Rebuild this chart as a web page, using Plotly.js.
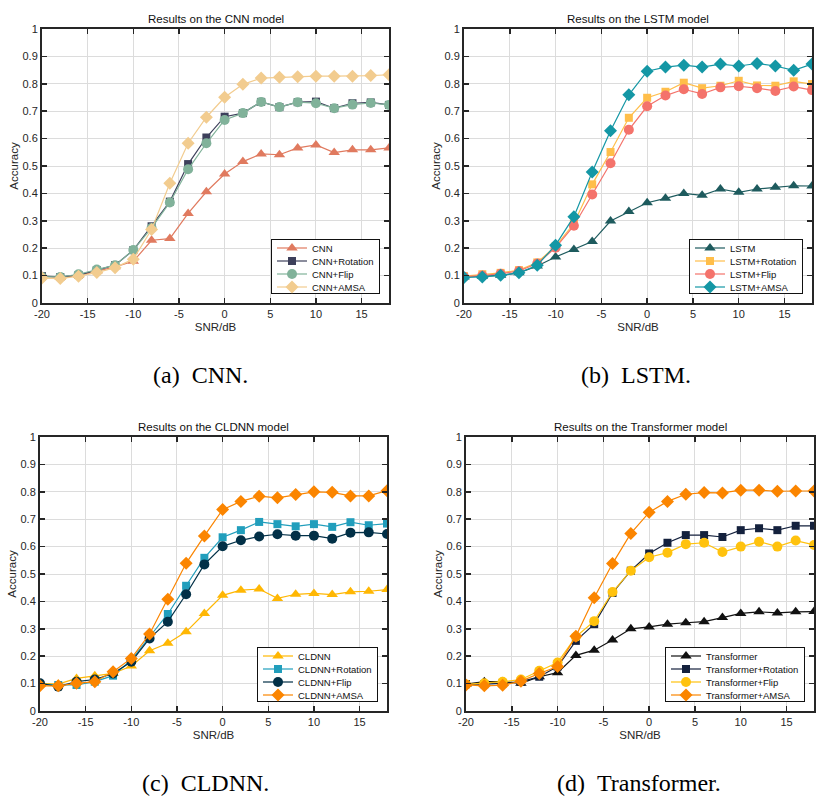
<!DOCTYPE html>
<html>
<head>
<meta charset="utf-8">
<script src="https://cdn.plot.ly/plotly-3.0.1.min.js"></script>
<style>html,body{margin:0;padding:0;background:#fff}#chart{width:831px;height:809px}</style>
</head>
<body>
<div id="chart"></div>
<script>
// SNR values (dB)
const snr = [-20,-18,-16,-14,-12,-10,-8,-6,-4,-2,0,2,4,6,8,10,12,14,16,18];
const xTickVals = [-20,-15,-10,-5,0,5,10,15];
const xTickText = ["-20","-15","-10","-5","0","5","10","15"];

// (a) CNN
const cnn          = [0.098,0.093,0.100,0.115,0.132,0.152,0.229,0.235,0.327,0.406,0.471,0.516,0.544,0.541,0.566,0.577,0.549,0.559,0.559,0.566];
const cnnRotation  = [0.098,0.095,0.102,0.120,0.138,0.193,0.280,0.370,0.507,0.604,0.680,0.693,0.734,0.715,0.733,0.735,0.711,0.729,0.732,0.723];
const cnnFlip      = [0.095,0.095,0.105,0.122,0.138,0.193,0.274,0.367,0.488,0.583,0.668,0.693,0.734,0.715,0.733,0.729,0.711,0.724,0.730,0.723];
const cnnAMSA      = [0.091,0.089,0.098,0.111,0.129,0.160,0.268,0.437,0.583,0.678,0.751,0.798,0.821,0.824,0.826,0.828,0.828,0.828,0.830,0.833];

// (b) LSTM
const lstm         = [0.095,0.098,0.101,0.110,0.135,0.168,0.195,0.224,0.299,0.334,0.366,0.382,0.400,0.393,0.416,0.404,0.416,0.422,0.428,0.427];
const lstmRotation = [0.098,0.105,0.110,0.120,0.148,0.207,0.290,0.433,0.551,0.676,0.749,0.771,0.804,0.784,0.793,0.811,0.794,0.793,0.809,0.799];
const lstmFlip     = [0.096,0.100,0.107,0.117,0.144,0.202,0.282,0.396,0.510,0.632,0.718,0.757,0.780,0.763,0.787,0.791,0.784,0.774,0.790,0.777];
const lstmAMSA     = [0.093,0.095,0.101,0.110,0.138,0.211,0.315,0.478,0.629,0.760,0.846,0.861,0.868,0.861,0.872,0.865,0.874,0.865,0.849,0.872];

// (c) CLDNN
const cldnn         = [0.101,0.098,0.119,0.129,0.137,0.164,0.220,0.247,0.289,0.356,0.422,0.441,0.445,0.411,0.426,0.429,0.425,0.435,0.437,0.443];
const cldnnRotation = [0.098,0.095,0.095,0.107,0.129,0.186,0.271,0.354,0.457,0.559,0.634,0.660,0.690,0.682,0.674,0.682,0.672,0.689,0.678,0.684];
const cldnnFlip     = [0.101,0.089,0.107,0.115,0.137,0.180,0.265,0.326,0.426,0.535,0.601,0.623,0.637,0.645,0.640,0.640,0.629,0.651,0.652,0.646];
const cldnnAMSA     = [0.092,0.092,0.101,0.107,0.143,0.192,0.281,0.408,0.539,0.639,0.735,0.765,0.784,0.778,0.790,0.800,0.798,0.785,0.785,0.804];

// (d) Transformer
const trans         = [0.098,0.107,0.107,0.101,0.125,0.140,0.203,0.222,0.259,0.300,0.307,0.317,0.322,0.326,0.341,0.356,0.362,0.358,0.362,0.363];
const transRotation = [0.098,0.098,0.101,0.107,0.125,0.162,0.256,0.317,0.431,0.512,0.575,0.614,0.642,0.642,0.635,0.660,0.667,0.660,0.676,0.676];
const transFlip     = [0.097,0.101,0.107,0.115,0.147,0.177,0.271,0.328,0.434,0.512,0.561,0.578,0.609,0.614,0.580,0.600,0.618,0.600,0.622,0.606];
const transAMSA     = [0.095,0.092,0.094,0.109,0.137,0.162,0.273,0.413,0.538,0.648,0.725,0.765,0.791,0.797,0.796,0.806,0.806,0.802,0.803,0.803];

const panelTitles = ["Results on the CNN model","Results on the LSTM model","Results on the CLDNN model","Results on the Transformer model"];
const captions = ["(a)\u00a0\u00a0CNN.","(b)\u00a0\u00a0LSTM.","(c)\u00a0\u00a0CLDNN.","(d)\u00a0\u00a0Transformer."];

const FONT = "Arial, 'Liberation Sans', Helvetica, sans-serif";
const W = 831, H = 809;

// Plot area pixel boxes [left, right, top, bottom]
const boxes = [
  [42, 389, 29, 303],
  [464, 812, 29, 303],
  [40, 387, 437, 711],
  [466, 814, 437, 711]
];
const capX = [200, 636, 205, 639];
const capY = [375, 375, 783, 783];

const panels = [
  [["CNN",cnn,"#E07A5F","triangle-up",10],["CNN+Rotation",cnnRotation,"#3D405B","square",8],["CNN+Flip",cnnFlip,"#81B29A","circle",10],["CNN+AMSA",cnnAMSA,"#F2CC8F","diamond",10]],
  [["LSTM",lstm,"#1E5B5E","triangle-up",10],["LSTM+Rotation",lstmRotation,"#FFBE4A","square",8],["LSTM+Flip",lstmFlip,"#F4736B","circle",10],["LSTM+AMSA",lstmAMSA,"#1497A5","diamond",10]],
  [["CLDNN",cldnn,"#FFB703","triangle-up",10],["CLDNN+Rotation",cldnnRotation,"#219EBC","square",8],["CLDNN+Flip",cldnnFlip,"#023047","circle",10],["CLDNN+AMSA",cldnnAMSA,"#FB8500","diamond",10]],
  [["Transformer",trans,"#111111","triangle-up",10],["Transformer+Rotation",transRotation,"#14213D","square",8],["Transformer+Flip",transFlip,"#FFC20E","circle",10],["Transformer+AMSA",transAMSA,"#FB8500","diamond",10]]
];

const data = [];
const layout = {
  width: W, height: H,
  margin: {l:0, r:0, t:0, b:0},
  paper_bgcolor: "#fff", plot_bgcolor: "#fff",
  showlegend: true,
  font: {family: FONT, size: 11, color: "#262626"},
  annotations: []
};
const legendIds = [];

panels.forEach((series, i) => {
  const n = i + 1;
  const sfx = n === 1 ? "" : String(n);
  const xa = "x" + sfx, ya = "y" + sfx, lg = "legend" + sfx;
  legendIds.push(lg);
  const [L, R, T, B] = boxes[i];
  series.forEach(([name, vals, color, sym, size]) => {
    data.push({
      type: "scatter", mode: "lines+markers", name: name,
      x: snr, y: vals, xaxis: xa, yaxis: ya, legend: lg,
      line: {color: color, width: 1.2},
      marker: {color: color, symbol: sym, size: size, line: {width: 0}}
    });
  });
  const axCommon = {
    showline: true, linecolor: "#262626", linewidth: 2, mirror: "allticks",
    ticks: "inside", ticklen: 5, tickwidth: 1.5, tickcolor: "#262626",
    showgrid: true, gridcolor: "#DCDCDC", gridwidth: 1,
    zeroline: false, tickfont: {family: FONT, size: 11, color: "#262626"}
  };
  layout["xaxis" + sfx] = Object.assign({}, axCommon, {
    domain: [L / W, R / W], anchor: ya, range: [-20, 18],
    tickvals: xTickVals, ticktext: xTickText,
    title: {text: "SNR/dB", font: {family: FONT, size: 11.5, color: "#262626"}, standoff: 4}
  });
  layout["yaxis" + sfx] = Object.assign({}, axCommon, {
    domain: [1 - B / H, 1 - T / H], anchor: xa, range: [0, 1], dtick: 0.1,
    title: {text: "Accuracy", font: {family: FONT, size: 11.5, color: "#262626"}, standoff: 1}
  });
  layout[lg] = {
    x: (R - 9) / W, xanchor: "right", y: 1 - (B - 64) / H, yanchor: "top",
    bgcolor: "#fff", bordercolor: "#111", borderwidth: 1,
    font: {family: FONT, size: 9.5, color: "#111"},
    tracegroupgap: 0, itemwidth: 30
  };
  layout.annotations.push({
    text: panelTitles[i], xref: "paper", yref: "paper",
    x: (L + R) / 2 / W, y: 1 - (T - 10) / H, xanchor: "center", yanchor: "middle",
    showarrow: false, font: {family: FONT, size: 11.5, color: "#111"}
  });
  layout.annotations.push({
    text: captions[i], xref: "paper", yref: "paper",
    x: capX[i] / W, y: 1 - capY[i] / H,
    xanchor: "center", yanchor: "middle", showarrow: false,
    font: {family: "'Liberation Serif', 'Times New Roman', serif", size: 24, color: "#000"}
  });
});

Plotly.newPlot("chart", data, layout, {displayModeBar: false, staticPlot: true}).then(gd => {
  // compact legend rows (MATLAB-like spacing)
  legendIds.forEach(id => {
    const g = gd.querySelector("g." + id);
    if (!g) return;
    g.querySelectorAll("g.traces").forEach((it, k) => {
      const m = /translate\(\s*([-\d.e]+)[ ,]+([-\d.e]+)\s*\)/.exec(it.getAttribute("transform") || "");
      const x = m ? parseFloat(m[1]) : 0;
      it.setAttribute("transform", "translate(" + x + "," + (9 + k * 13) + ")");
    });
    const bg = g.querySelector("rect.bg");
    if (bg) bg.setAttribute("height", 54);
  });
});
</script>
</body>
</html>
